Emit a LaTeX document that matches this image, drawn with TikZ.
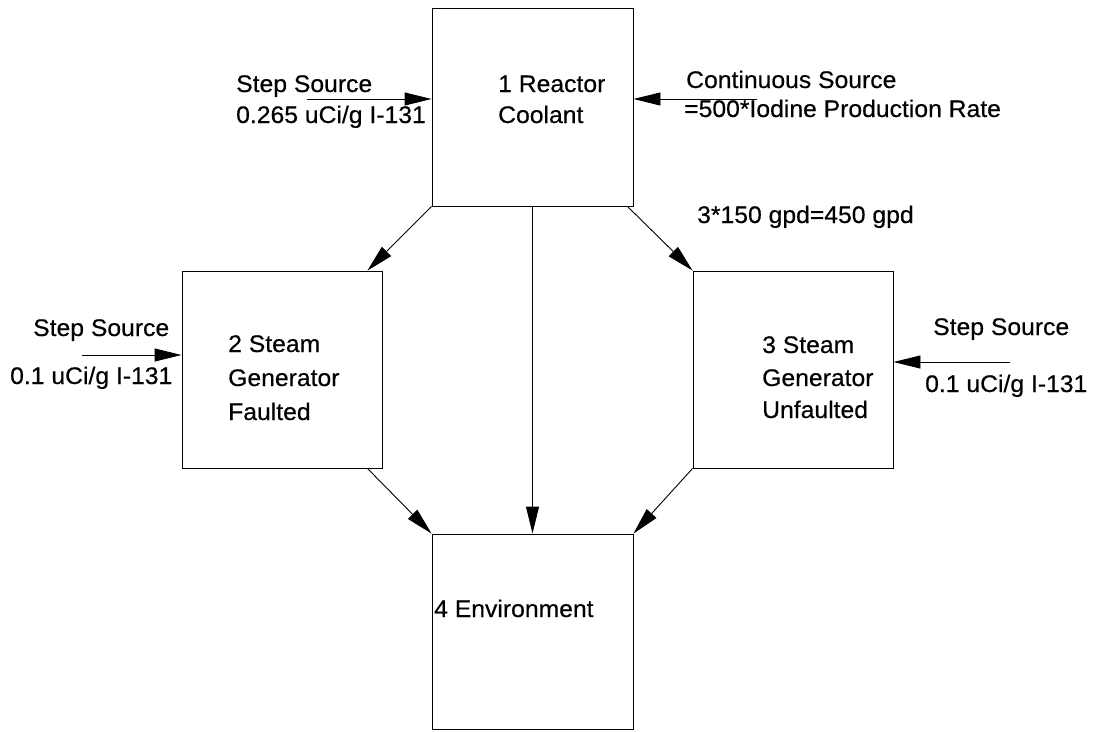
\documentclass[tikz,border=0pt]{standalone}
\usepackage{fontspec}
\setmainfont{Liberation Sans}[FakeStretch=1.03,FakeBold=0.4]
\usetikzlibrary{arrows.meta,calc}

\begin{document}
\begin{tikzpicture}[x=1pt,y=-1pt,
  box/.style={draw, line width=0.9pt, inner sep=0pt},
  txt/.style={anchor=base west, inner sep=0pt, font=\fontsize{24}{29}\selectfont},
  flow/.style={line width=0.9pt, -{Triangle[length=27pt,width=13pt]}},
]
\useasboundingbox (0,0) rectangle (1099,731);

% compartments
\node[box, minimum width=201pt, minimum height=198pt] (b1) at (532.5,107) {};
\node[box, minimum width=200pt, minimum height=197pt] (b2) at (282,369.5) {};
\node[box, minimum width=200pt, minimum height=197pt] (b3) at (793,369.5) {};
\node[box, minimum width=201pt, minimum height=195pt] (b4) at (532.5,631.5) {};

% compartment names
\node[txt] (b1a) at (498,92) {1 Reactor};
\node[txt] (b1b) at (498,123) {Coolant};
\node[txt] (b2a) at (228,352) {2 Steam};
\node[txt] (b2b) at (228,386) {Generator};
\node[txt] (b2c) at (228,420) {Faulted};
\node[txt] (b3a) at (762,353) {3 Steam};
\node[txt] (b3b) at (762,386) {Generator};
\node[txt] (b3c) at (762,418) {Unfaulted};
\node[txt] (b4a) at (434,617) {4 Environment};

% source terms
\node[txt] (s1a) at (236,92) {Step Source};
\node[txt] (s1b) at (236,123) {0.265 uCi/g I-131};
\node[txt] (s2a) at (686,88) {Continuous Source};
\node[txt] (s2b) at (684,117) {=500*Iodine Production Rate};
\node[txt] (s3a) at (33,336) {Step Source};
\node[txt] (s3b) at (10,384) {0.1 uCi/g I-131};
\node[txt] (s4a) at (933,335) {Step Source};
\node[txt] (s4b) at (925,392) {0.1 uCi/g I-131};

% leak rate label
\node[txt] (leak) at (697,223) {3*150 gpd=450 gpd};

% source arrows
\coordinate (s1) at (307,99);
\coordinate (s2) at (757,99);
\coordinate (s3) at (82,355);
\coordinate (s4) at (1010,362);
\draw[flow] (s1) -- (s1 -| b1.west);
\draw[flow] (s2) -- (s2 -| b1.east);
\draw[flow] (s3) -- (s3 -| b2.west);
\draw[flow] (s4) -- (s4 -| b3.east);

% transfers between compartments
\draw[flow] (b1.south west) -- ($(b2.north east)+(-15,0)$);
\draw[flow] ($(b1.south east)+(-6,0)$) -- (b3.north west);
\draw[flow] (b1.south) -- (b4.north);
\draw[flow] ($(b2.south east)+(-15,0)$) -- (b4.north west);
\draw[flow] (b3.south west) -- (b4.north east);
\end{tikzpicture}
\end{document}
